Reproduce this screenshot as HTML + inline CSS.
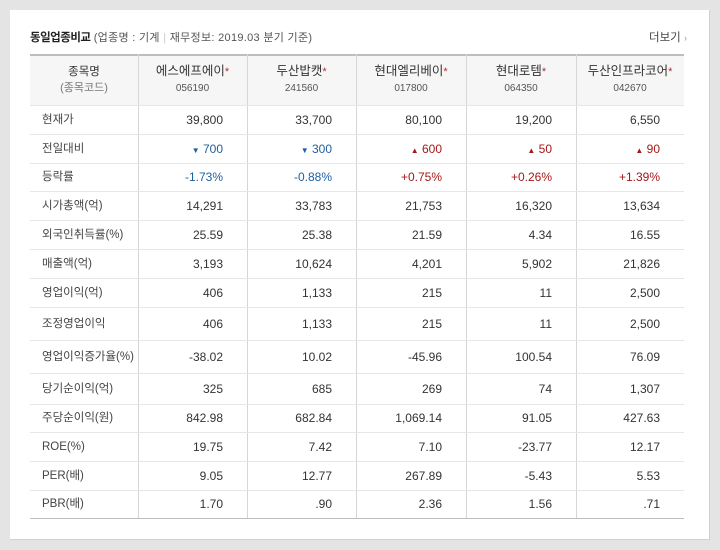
<!DOCTYPE html>
<html><head><meta charset="utf-8">
<style>
html,body{margin:0;padding:0;}
body{width:720px;height:550px;background:#e4e4e4;position:relative;overflow:hidden;font-family:"Liberation Sans","Noto Sans CJK KR","NanumGothic",sans-serif;}
#panel{position:absolute;left:10px;top:10px;width:699px;height:529px;background:#fff;border-right:1px solid #d0d0d0;border-bottom:1px solid #d0d0d0;}
.abs{position:absolute;white-space:nowrap;line-height:16px;height:16px;}
#title{left:30px;top:30px;font-size:11.5px;color:#222;}
#title b{font-weight:bold;letter-spacing:-0.5px;}
#title span{color:#555;font-size:11px;letter-spacing:0.3px;}
#more{left:649px;top:30px;font-size:11.5px;color:#444;}
.hl{position:absolute;height:1px;background:#e6e6e6;left:30px;width:654px;}
.vl{position:absolute;width:1px;background:#d6d6d6;}
.lbl{font-size:11.5px;color:#444;}
.val{font-size:12px;color:#333;text-align:right;}
.nm{font-size:12.5px;color:#333;text-align:center;}
.cd{font-size:10px;color:#555;text-align:center;}
.star{color:#b03030;font-size:11px;}
.dn{color:#1f5f9f;}
.up{color:#a31a1a;}
</style></head>
<body>
<div id="panel"></div>
<div id="title" class="abs"><b>동일업종비교</b> <span>(업종명 : 기계 <span style="color:#ccc">|</span> 재무정보: 2019.03 분기 기준)</span></div>
<div id="more" class="abs">더보기 <span style="color:#999;font-size:9px">›</span></div>
<div id="hdrbg" style="position:absolute;left:30px;top:54px;width:654px;height:51px;background:#f6f6f6;border-top:2px solid #bdbdbd;box-sizing:border-box;"></div>
<div id="tbl"></div>
<script>
const companies = ["에스에프에이","두산밥캣","현대엘리베이","현대로템","두산인프라코어"];
const codes = ["056190","241560","017800","064350","042670"];
const rowLabels = ["현재가","전일대비","등락률","시가총액(억)","외국인취득률(%)","매출액(억)","영업이익(억)","조정영업이익","영업이익증가율(%)","당기순이익(억)","주당순이익(원)","ROE(%)","PER(배)","PBR(배)"];
const values = [
 ["39,800","33,700","80,100","19,200","6,550"],
 ["700","300","600","50","90"],
 ["-1.73%","-0.88%","+0.75%","+0.26%","+1.39%"],
 ["14,291","33,783","21,753","16,320","13,634"],
 ["25.59","25.38","21.59","4.34","16.55"],
 ["3,193","10,624","4,201","5,902","21,826"],
 ["406","1,133","215","11","2,500"],
 ["406","1,133","215","11","2,500"],
 ["-38.02","10.02","-45.96","100.54","76.09"],
 ["325","685","269","74","1,307"],
 ["842.98","682.84","1,069.14","91.05","427.63"],
 ["19.75","7.42","7.10","-23.77","12.17"],
 ["9.05","12.77","267.89","-5.43","5.53"],
 ["1.70",".90","2.36","1.56",".71"]
];
const changeDir = ["down","down","up","up","up"];

const colEdges=[30,138,247,356,466,576,684];
const rowEdges=[105,134,163,191,220,249,278,307,340,373,404,432,461,490,518];
const tbl=document.getElementById('tbl');
function mk(cls,name,inter){const d=document.createElement('div');d.className='abs '+cls;


tbl.appendChild(d);return d;}
for(let i=1;i<colEdges.length-1;i++){const v=mk('vl','column-divider','false');v.style.left=colEdges[i]+'px';v.style.top='54px';v.style.height=(rowEdges[rowEdges.length-1]-54)+'px';}
for(let i=0;i<rowEdges.length;i++){const h=mk('hl','row-divider','false');h.style.top=rowEdges[i]+'px';h.style.height='1px';if(i==rowEdges.length-1){h.style.background='#bdbdbd';}}
const h0=mk('nm','header-stock-name','false');h0.style.left='30px';h0.style.width='108px';h0.style.top='64px';h0.style.fontSize='11.5px';h0.textContent='종목명';
const h1=mk('cd','header-stock-code','false');h1.style.left='30px';h1.style.width='108px';h1.style.top='80px';h1.style.fontSize='11px';h1.style.color='#777';h1.textContent='(종목코드)';
companies.forEach((c,j)=>{
 const x=colEdges[j+1],w=colEdges[j+2]-x;
 const n=mk('nm','company-name','true');n.style.left=x+'px';n.style.width=w+'px';n.style.top='63px';
 n.innerHTML=c+'<span class="star">*</span>';
 const cd=mk('cd','company-code','false');cd.style.left=x+'px';cd.style.width=w+'px';cd.style.top='81px';cd.textContent=codes[j];
});
rowLabels.forEach((l,i)=>{
 const top=rowEdges[i],hgt=rowEdges[i+1]-top;
 const ty=Math.round(top+hgt/2-8)+'px';
 const lb=mk('lbl','row-label','false');lb.style.left='42px';lb.style.top=ty;lb.textContent=l;
 values[i].forEach((v,j)=>{
  const x=colEdges[j+1],w=colEdges[j+2]-x;
  const c=mk('val','cell-value','false');c.style.left=x+'px';c.style.width=(w-24)+'px';c.style.top=ty;
  if(i==1){const dn=changeDir[j]=='down';c.innerHTML='<span class="'+(dn?'dn':'up')+'"><span style="font-size:8px">'+(dn?'▼':'▲')+'</span> '+v+'</span>';}
  else if(i==2){c.innerHTML='<span class="'+(v[0]=='-'?'dn':'up')+'">'+v+'</span>';}
  else c.textContent=v;
 });
});
</script>
</body></html>
